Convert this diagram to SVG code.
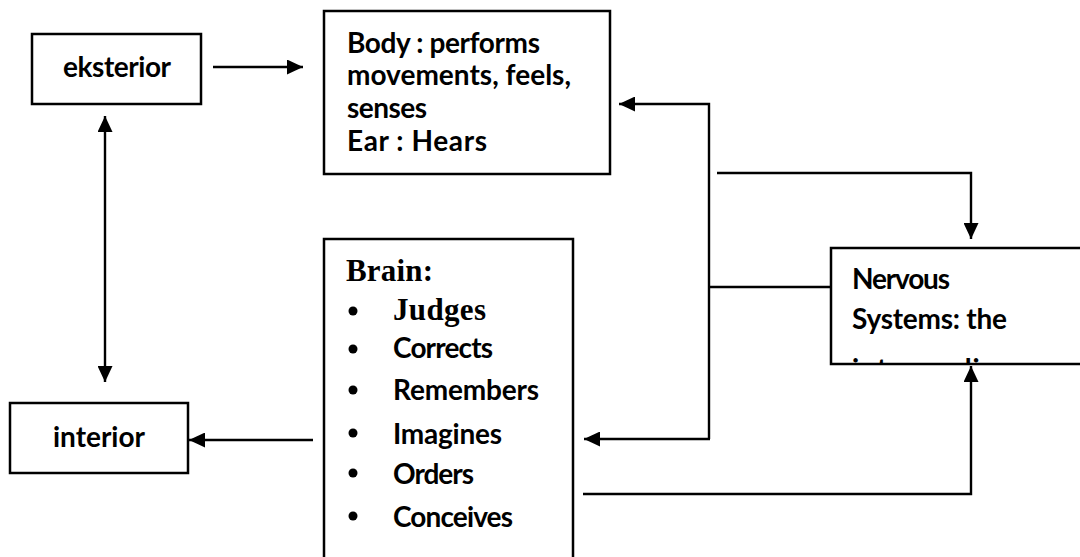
<svg xmlns="http://www.w3.org/2000/svg" width="1080" height="557" viewBox="0 0 1080 557">
<style>
.box{fill:#fff;stroke:#000;stroke-width:2.5}
.t{font-family:Lato,"Open Sans","Liberation Sans",sans-serif;font-weight:bold;font-size:28px;fill:#000}
.s{font-family:"Liberation Serif","Times New Roman",serif;font-weight:bold;font-size:31px;fill:#000}
.c{fill:none;stroke:#000;stroke-width:2.4}
</style>
<defs>
<marker id="ah" markerUnits="userSpaceOnUse" markerWidth="17" markerHeight="15" refX="16" refY="7.5" orient="auto-start-reverse">
<path d="M0,0 L16,7.5 L0,15 z" fill="#000"/>
</marker>
<clipPath id="nclip"><rect x="832" y="249" width="260" height="114"/></clipPath>
</defs>
<rect width="1080" height="557" fill="#fff"/>
<g id="connectors">
<line class="c" x1="213" y1="67" x2="303" y2="67" marker-end="url(#ah)"/>
<line class="c" x1="105" y1="116" x2="105" y2="382" marker-start="url(#ah)" marker-end="url(#ah)"/>
<line class="c" x1="313" y1="440" x2="189" y2="440" marker-end="url(#ah)"/>
<polyline class="c" points="709,439 709,104 619,104" marker-end="url(#ah)"/>
<line class="c" x1="710" y1="439" x2="584" y2="439" marker-end="url(#ah)"/>
<line class="c" x1="709" y1="287" x2="831" y2="287"/>
<polyline class="c" points="717,173 971,173 971,239" marker-end="url(#ah)"/>
<polyline class="c" points="583,494 971,494 971,366" marker-end="url(#ah)"/>
</g>
<g id="eksterior">
<rect class="box" x="32" y="34" width="169" height="70"/>
<text class="t" x="117" y="77" text-anchor="middle" textLength="108">eksterior</text>
</g>
<g id="body">
<rect class="box" x="324" y="11" width="286" height="163"/>
<text class="t" x="347" y="53" textLength="193">Body : performs</text>
<text class="t" x="347" y="85" textLength="224">movements, feels,</text>
<text class="t" x="347" y="118" textLength="80">senses</text>
<text class="t" x="347" y="151" textLength="140">Ear : Hears</text>
</g>
<g id="interior">
<rect class="box" x="10" y="403" width="178" height="70"/>
<text class="t" x="99" y="447" text-anchor="middle" textLength="92">interior</text>
</g>
<g id="brain">
<rect class="box" x="324" y="239" width="249" height="330"/>
<text class="s" x="346" y="281" textLength="87">Brain:</text>
<circle cx="353" cy="311" r="4.5"/>
<text class="s" x="393" y="320" textLength="93">Judges</text>
<circle cx="353" cy="349" r="4.5"/>
<text class="t" x="393" y="358" textLength="100">Corrects</text>
<circle cx="353" cy="390" r="4.5"/>
<text class="t" x="393" y="400" textLength="146">Remembers</text>
<circle cx="353" cy="433" r="4.5"/>
<text class="t" x="393" y="444" textLength="109">Imagines</text>
<circle cx="353" cy="473" r="4.5"/>
<text class="t" x="393" y="484" textLength="81">Orders</text>
<circle cx="353" cy="516" r="4.5"/>
<text class="t" x="393" y="527" textLength="120">Conceives</text>
</g>
<g id="nervous">
<rect class="box" x="831" y="248" width="260" height="116"/>
<g clip-path="url(#nclip)">
<text class="t" x="852" y="289" textLength="98">Nervous</text>
<text class="t" x="852" y="329" textLength="155">Systems: the</text>
<text class="t" x="852" y="379" textLength="170">intermediary</text>
</g>
</g>
</svg>
